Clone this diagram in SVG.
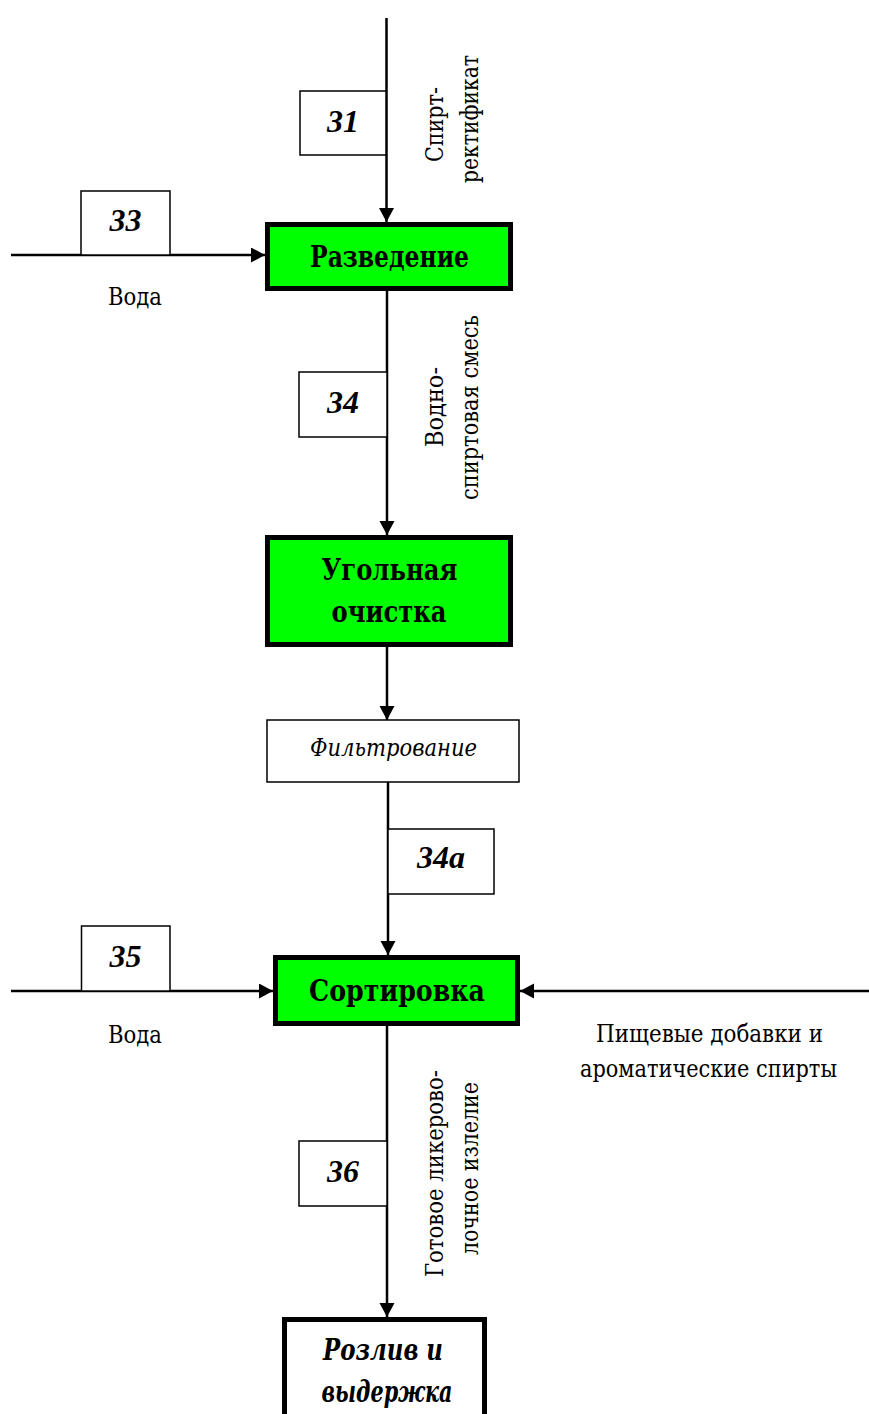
<svg xmlns="http://www.w3.org/2000/svg" width="869" height="1414" viewBox="0 0 869 1414">
<defs>
<marker id="arr" markerUnits="userSpaceOnUse" markerWidth="15" markerHeight="16" refX="14" refY="7.5" orient="auto">
<path d="M0,0 L14,7.5 L0,15 z" fill="#000"/>
</marker>
<style>
.ln{stroke:#000;stroke-width:2.5;fill:none;marker-end:url(#arr)}
.proc{fill:#00ff00;stroke:#000;stroke-width:5}
.final{fill:#fff;stroke:#000;stroke-width:5}
.tag{fill:#fff;stroke:#000;stroke-width:1.5}
.num{font-family:"Liberation Serif","DejaVu Serif",serif;font-weight:bold;font-style:italic;font-size:32px;text-anchor:middle}
.bt{font-family:"DejaVu Serif","Liberation Serif",serif;font-weight:bold;font-size:29px;text-anchor:middle}
.bit{font-family:"DejaVu Serif","Liberation Serif",serif;font-weight:bold;font-style:italic;font-size:29px;text-anchor:middle}
.lb{font-family:"DejaVu Serif","Liberation Serif",serif;font-size:24px;text-anchor:middle}
.it{font-family:"DejaVu Serif","Liberation Serif",serif;font-style:italic;font-size:24px;text-anchor:middle}
</style>
</defs>
<rect width="869" height="1414" fill="#fff"/>
<g id="connectors">
<line class="ln" x1="386.5" y1="18" x2="386.5" y2="222"/>
<line class="ln" x1="11" y1="255" x2="265" y2="255"/>
<line class="ln" x1="387" y1="291" x2="387" y2="535"/>
<line class="ln" x1="387" y1="647" x2="387" y2="720"/>
<line class="ln" x1="388" y1="782" x2="388" y2="955"/>
<line class="ln" x1="11" y1="991" x2="273" y2="991"/>
<line class="ln" x1="869" y1="991" x2="520" y2="991"/>
<line class="ln" x1="387" y1="1026" x2="387" y2="1317"/>
</g>
<g id="tag31"><rect class="tag" x="300" y="91" width="86" height="64"/><text class="num" x="343" y="132">31</text></g>
<g id="tag33"><rect class="tag" x="81" y="191" width="89" height="64"/><text class="num" x="125.5" y="231">33</text></g>
<g id="tag34"><rect class="tag" x="299" y="372" width="88" height="65"/><text class="num" x="343" y="413">34</text></g>
<g id="tag34a"><rect class="tag" x="388" y="829" width="106" height="65"/><text class="num" x="441" y="868">34a</text></g>
<g id="tag35"><rect class="tag" x="81.5" y="926" width="88.5" height="65"/><text class="num" x="125.5" y="967">35</text></g>
<g id="tag36"><rect class="tag" x="299" y="1141" width="88" height="65"/><text class="num" x="343" y="1182">36</text></g>
<g id="razvedenie"><rect class="proc" x="267.5" y="224.5" width="243" height="64"/><text class="bt" x="389.5" y="267" textLength="159" lengthAdjust="spacingAndGlyphs">Разведение</text></g>
<g id="ugolnaya"><rect class="proc" x="267.5" y="537.5" width="243" height="107"/><text class="bt" x="389.5" y="580" textLength="136" lengthAdjust="spacingAndGlyphs">Угольная</text><text class="bt" x="389" y="622" textLength="115" lengthAdjust="spacingAndGlyphs">очистка</text></g>
<g id="filtr"><rect class="tag" x="267" y="720" width="252" height="62"/><text class="it" x="393.5" y="756" textLength="167" lengthAdjust="spacingAndGlyphs">Фильтрование</text></g>
<g id="sortirovka"><rect class="proc" x="275.5" y="957.5" width="242" height="66"/><text class="bt" x="397" y="1001" textLength="176" lengthAdjust="spacingAndGlyphs">Сортировка</text></g>
<g id="rozliv"><rect class="final" x="284.5" y="1319.5" width="200" height="120"/><text class="bit" x="383" y="1360" textLength="120" lengthAdjust="spacingAndGlyphs">Розлив и</text><text class="bit" x="387" y="1402" textLength="131" lengthAdjust="spacingAndGlyphs">выдержка</text></g>
<g id="labels">
<text class="lb" transform="translate(442.5,124.5) rotate(-90)" textLength="75" lengthAdjust="spacingAndGlyphs">Спирт-</text>
<text class="lb" transform="translate(478,119) rotate(-90)" textLength="128" lengthAdjust="spacingAndGlyphs">ректификат</text>
<text class="lb" x="135" y="305" textLength="54" lengthAdjust="spacingAndGlyphs">Вода</text>
<text class="lb" transform="translate(442.5,407) rotate(-90)" textLength="80" lengthAdjust="spacingAndGlyphs">Водно-</text>
<text class="lb" transform="translate(478,407.5) rotate(-90)" textLength="185" lengthAdjust="spacingAndGlyphs">спиртовая смесь</text>
<text class="lb" x="135" y="1043" textLength="54" lengthAdjust="spacingAndGlyphs">Вода</text>
<text class="lb" x="709.5" y="1042" textLength="227" lengthAdjust="spacingAndGlyphs">Пищевые добавки и</text>
<text class="lb" x="708.5" y="1077" font-size="23" textLength="257" lengthAdjust="spacingAndGlyphs">ароматические спирты</text>
<text class="lb" transform="translate(442.5,1173.5) rotate(-90)" textLength="207" lengthAdjust="spacingAndGlyphs">Готовое ликерово-</text>
<text class="lb" transform="translate(478,1168.5) rotate(-90)" textLength="173" lengthAdjust="spacingAndGlyphs">лочное излелие</text>
</g>
</svg>
